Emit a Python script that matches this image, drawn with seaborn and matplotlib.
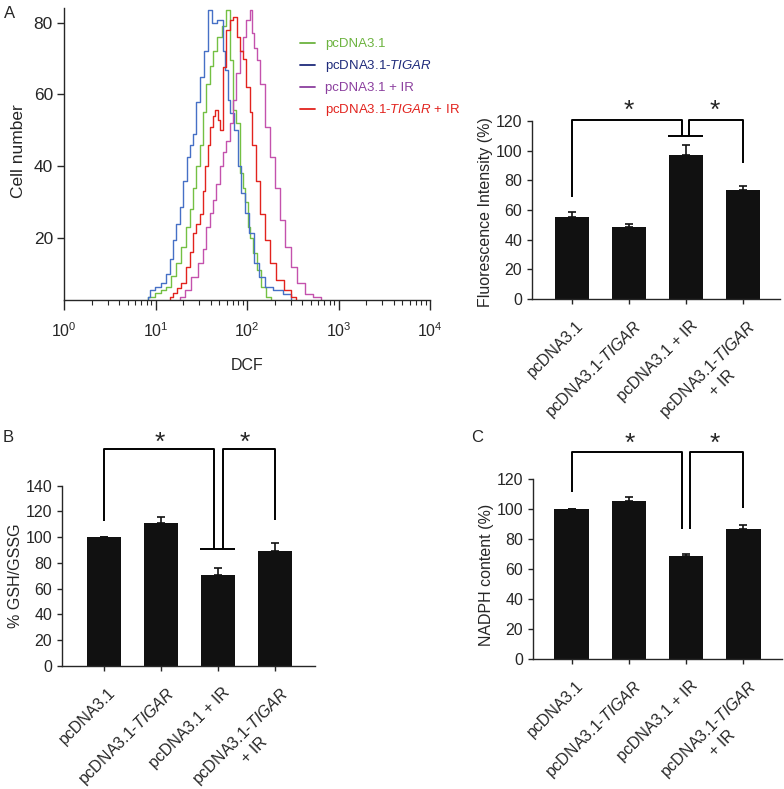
import numpy as np
import pandas as pd
import matplotlib
matplotlib.use("Agg")
import matplotlib.pyplot as plt
import matplotlib.transforms as mtransforms
from matplotlib.lines import Line2D
from matplotlib.ticker import LogLocator, NullFormatter
import seaborn as sns

# ---- panel A (left): DCF flow-cytometry histograms ----
GROUPS = ["pcDNA3.1", "pcDNA3.1-$\\it{TIGAR}$", "pcDNA3.1 + IR",
          "pcDNA3.1-$\\it{TIGAR}$ + IR"]

green_dcf = [7.4, 9.0, 10.8, 12.2, 13.8, 15.7, 17.8, 20.2, 22.8, 24.6, 26.5, 29.3,
             31.6, 34.1, 37.7, 40.6, 43.8, 49.6, 56.2, 62.1, 67.0, 72.2, 79.8,
             86.1, 92.8, 97.5, 105.1, 110.5, 119.2, 135.0, 153.0, 173.4, 191.6]
green_cnt = [0, 3.5, 4.6, 5.5, 6.3, 9.5, 12.9, 17.5, 23, 28, 34, 40,
             46, 55, 63, 68, 72, 76, 79, 83.6, 69.6, 55.7, 52,
             38, 34, 30, 23, 20, 15.7, 11, 6.3, 3.5, 0]

blue_dcf = [8.0, 8.4, 9.0, 10.8, 12.2, 13.8, 14.9, 16.1, 17.8, 19.2, 21.2, 22.8,
            24.6, 26.5, 29.3, 31.6, 35.8, 39.6, 43.8, 49.6, 52.2, 56.2, 59.2,
            63.7, 67.0, 75.9, 81.8, 90.5, 97.5, 110.5, 125.3, 141.9, 169.1,
            217.4, 279.1, 324.3]
blue_cnt = [0, 3.5, 5.5, 6.3, 7.5, 10, 14, 19.4, 24, 28.6, 36, 42.6,
            46, 49, 58, 65, 72, 83.6, 80, 80.8, 80.8, 72, 66.8,
            58.5, 54.8, 50, 40, 32.5, 26.9, 21.3, 12.9, 9.2, 6.3,
            5.5, 4.5, 0]

magenta_dcf = [17.8, 19.2, 22.8, 26.5, 31.6, 34.1, 37.7, 40.6, 43.8, 48.4, 52.2,
               56.2, 62.1, 67.0, 72.2, 79.8, 86.1, 92.8, 102.5, 110.5, 116.2,
               125.3, 131.7, 149.2, 169.1, 191.6, 217.4, 246.2, 279.1, 324.3,
               386.2, 472.1, 591.4, 687.0]
magenta_cnt = [0, 3.5, 5.5, 9.2, 12.9, 17, 23, 27, 30.5, 35, 40,
               44, 47, 52, 58.5, 66, 72, 76, 80.8, 83.6, 77,
               73, 69.6, 63, 51, 42.6, 34, 25, 17.6, 12,
               7.3, 4.5, 3.5, 0]

red_dcf = [13.8, 14.9, 16.1, 18.2, 20.2, 22.8, 24.6, 26.5, 29.3, 31.6, 34.1, 35.8,
           38.6, 40.6, 43.8, 46.0, 49.6, 52.2, 56.2, 62.1, 67.0, 72.2, 81.8,
           86.1, 92.8, 102.5, 110.5, 116.2, 131.7, 149.2, 169.1, 191.6, 222.9,
           279.1, 324.3, 358.3]
red_cnt = [0, 3.5, 4.6, 6, 7.3, 12, 16, 21.3, 24, 26.8, 33, 40,
           46, 51, 54, 55.7, 53, 50, 67.7, 78, 80.8, 81.7, 76,
           72, 70, 62, 55, 46, 36, 26.8, 19.4, 12.9, 8.2,
           5.5, 3.5, 0]

HIST_COLORS = ["#74c043", "#4670c6", "#c452ad", "#e2231e"]
LEGEND_COLORS = ["#6cb33f", "#1f2b7b", "#8b3f9e", "#e2231e"]

# ---- bar panels ----
BAR_LABELS = ["pcDNA3.1", "pcDNA3.1-$\\it{TIGAR}$", "pcDNA3.1 + IR",
              "pcDNA3.1-$\\it{TIGAR}$\n+ IR"]
fluo_mean = [55.4, 48.7, 97.4, 73.4]
fluo_err = [3.0, 1.8, 6.6, 2.6]
gsh_mean = [100, 110.8, 70.7, 89.6]
gsh_err = [0, 5.2, 5.2, 5.7]
nadph_mean = [100, 105.7, 68.8, 86.6]
nadph_err = [0, 2.3, 1.5, 2.7]

BAR_COLOR = "#111111"
W, H = 784, 789

sns.set_style("ticks")
plt.rcParams["font.family"] = ["Liberation Sans", "DejaVu Sans"]
plt.rcParams["mathtext.fontset"] = "custom"
plt.rcParams["mathtext.rm"] = "Liberation Sans"
plt.rcParams["mathtext.it"] = "Liberation Sans:italic"
plt.rcParams["axes.linewidth"] = 1.0

fig = plt.figure(figsize=(W / 100, H / 100), dpi=100)


def px_rect(l, t, r, b):
    return [l / W, 1 - b / H, (r - l) / W, (b - t) / H]


# --------------------------------------------------------------------------- #
ax = fig.add_axes(px_rect(64, 8, 430, 300))
df = pd.concat([
    pd.DataFrame({"DCF": x, "count": y, "group": g})
    for x, y, g in zip([green_dcf, blue_dcf, magenta_dcf, red_dcf],
                       [green_cnt, blue_cnt, magenta_cnt, red_cnt], GROUPS)
], ignore_index=True)
sns.lineplot(data=df, x="DCF", y="count", hue="group", palette=HIST_COLORS,
             estimator=None, sort=False, legend=False, lw=1.0,
             drawstyle="steps-mid", ax=ax)
ax.set_xscale("log")
ax.set_xlim(1, 1e4)
ax.set_ylim(2.7, 84.1)
ax.set_yticks([20, 40, 60, 80])
ax.xaxis.set_major_locator(LogLocator(base=10, numticks=10))
ax.xaxis.set_minor_locator(LogLocator(base=10, subs=np.arange(2, 10), numticks=50))
ax.xaxis.set_minor_formatter(NullFormatter())
ax.tick_params(axis="y", length=5, width=1, labelsize=12.5, pad=3)
ax.tick_params(axis="x", which="major", length=7.5, width=1, labelsize=11.5, pad=8)
ax.tick_params(axis="x", which="minor", length=3.5, width=0.8)
ax.set_xlabel("DCF", fontsize=11.5, labelpad=13)
ax.set_ylabel("Cell number", fontsize=12.5)
ax.yaxis.set_label_coords(-0.104, 0.51)
sns.despine(ax=ax)
handles = [Line2D([0], [0], color=c, lw=1.3) for c in LEGEND_COLORS]
leg = ax.legend(handles, GROUPS, loc="upper left",
                bbox_to_anchor=(300 / W, 1 - 38 / H), bbox_transform=fig.transFigure,
                frameon=False, fontsize=9.5, handlelength=1.1, handletextpad=0.8,
                labelspacing=0.6, borderpad=0, borderaxespad=0)
for t, c in zip(leg.get_texts(), LEGEND_COLORS):
    t.set_color(c)


# --------------------------------------------------------------------------- #
def bar_panel(rect, means, errs, ylabel, ymax, xlim, ylab_xy, brackets, cross, stars,
              star_y):
    ax = fig.add_axes(rect)
    sns.barplot(x=BAR_LABELS, y=means, color=BAR_COLOR, saturation=1, width=0.61,
                errorbar=None, linewidth=0, ax=ax)
    ax.errorbar(range(len(means)), means, yerr=[np.zeros(len(errs)), errs],
                fmt="none", ecolor=BAR_COLOR, elinewidth=1.2, capsize=3, capthick=1.2)
    ax.set_xlim(*xlim)
    ax.set_ylim(0, ymax)
    ax.set_yticks(np.arange(0, ymax + 1, 20))
    ax.set_xticks(range(len(BAR_LABELS)))
    ax.set_xticklabels(BAR_LABELS, rotation=45, ha="right", va="top",
                       rotation_mode="anchor", multialignment="center")
    ax.tick_params(axis="both", length=3.5, width=1, labelsize=11.5)
    ax.tick_params(axis="x", pad=10)
    shift = mtransforms.ScaledTranslation(4 / 100, 0, fig.dpi_scale_trans)
    for lbl in ax.get_xticklabels():
        lbl.set_transform(lbl.get_transform() + shift)
    ax.set_xlabel("")
    ax.set_ylabel(ylabel, fontsize=11.5)
    ax.yaxis.set_label_coords(*ylab_xy)
    sns.despine(ax=ax)

    kw = dict(color="black", lw=1.4, clip_on=False, solid_capstyle="butt")
    for x0, y0, x1, y1, top in brackets:
        ax.plot([x0, x0, x1, x1], [y0, top, top, y1], **kw)
    if cross is not None:
        ax.plot([cross[0], cross[1]], [cross[2], cross[2]], **kw)
    for sx in stars:
        ax.text(sx, star_y, "*", ha="center", va="center", fontsize=19,
                clip_on=False)
    return ax


bar_panel(px_rect(532, 121, 780, 299), fluo_mean, fluo_err,
          "Fluorescence Intensity (%)", 120, (-0.70, 3.65), (-0.157, 0.49),
          [(0, 69, 1.93, 110, 121), (2.05, 110, 3, 91.5, 121)], (1.68, 2.30, 110),
          [1.0, 2.5], 127)

bar_panel(px_rect(62, 485.7, 315, 666), gsh_mean, gsh_err,
          "% GSH/GSSG", 140, (-0.737, 3.70), (-0.154, 0.5),
          [(0, 112.9, 1.92, 90.9, 168.5), (2.08, 90.9, 3, 113, 168.5)],
          (1.68, 2.30, 90.9), [0.98, 2.47], 173)

bar_panel(px_rect(533, 479.3, 782, 659), nadph_mean, nadph_err,
          "NADPH content (%)", 120, (-0.68, 3.68), (-0.157, 0.467),
          [(0, 111.3, 1.935, 86.6, 138), (2.07, 86.6, 3, 100.6, 138)], None,
          [1.02, 2.51], 143.5)

for letter, x, y in [("A", 10, 14), ("B", 8, 437), ("C", 477, 437)]:
    fig.text(x / W, 1 - y / H, letter, ha="center", va="center", fontsize=12)

fig.savefig("out.png", dpi=100)
